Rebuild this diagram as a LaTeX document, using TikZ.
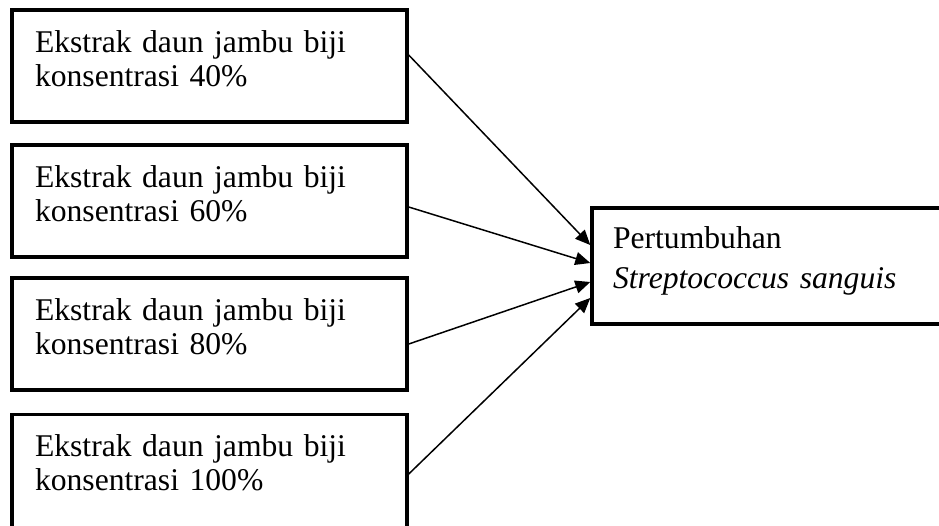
\documentclass[tikz,border=0pt]{standalone}
\usepackage{fontspec}
\setmainfont{Liberation Serif}
\usepackage{tikz}
\usetikzlibrary{arrows.meta}
\tikzset{
    kotak/.style={draw=black, line width=2pt, inner ysep=0pt, inner xsep=0.46cm,
        text width=6.98cm, align=left, text height=0.84cm, text depth=1.40cm,
        font=\fontsize{18}{19.6}\selectfont},
    hasil/.style={draw=black, line width=2pt, inner ysep=0pt, inner xsep=0.42cm,
        text width=6.36cm, align=left, text height=0.80cm, text depth=1.52cm,
        font=\fontsize{18}{22.8}\selectfont},
    panah/.style={-{Triangle[length=0.3cm,width=0.26cm]}, line width=0.85pt}}

\begin{document}
\begin{tikzpicture}[x=0.02cm, y=-0.02cm]
        \useasboundingbox (0,0) rectangle (939,525);
        \clip (0,0) rectangle (939,525);

            \node[kotak] (K40) at (209.5,66) {Ekstrak daun jambu biji\\konsentrasi 40\%};
            \node[kotak] (K60) at (209.5,201) {Ekstrak daun jambu biji\\konsentrasi 60\%};
            \node[kotak] (K80) at (209.5,334) {Ekstrak daun jambu biji\\konsentrasi 80\%};
            \node[kotak, text depth=1.66cm] (K100) at (209.5,477) {Ekstrak daun jambu biji\\konsentrasi 100\%};
            \node[hasil] (S) at (772,266) {Pertumbuhan\\\textit{Streptococcus sanguis}};

            \draw[panah] ([yshift=0.22cm]K40.east) -- ([yshift=0.42cm]S.west);
            \draw[panah] ([yshift=-0.12cm]K60.east) -- ([yshift=0.06cm]S.west);
            \draw[panah] ([yshift=-0.20cm]K80.east) -- ([yshift=-0.32cm]S.west);
            \draw[panah] ([yshift=0.06cm]K100.east) -- ([yshift=-0.64cm]S.west);

        \end{tikzpicture}
\end{document}
